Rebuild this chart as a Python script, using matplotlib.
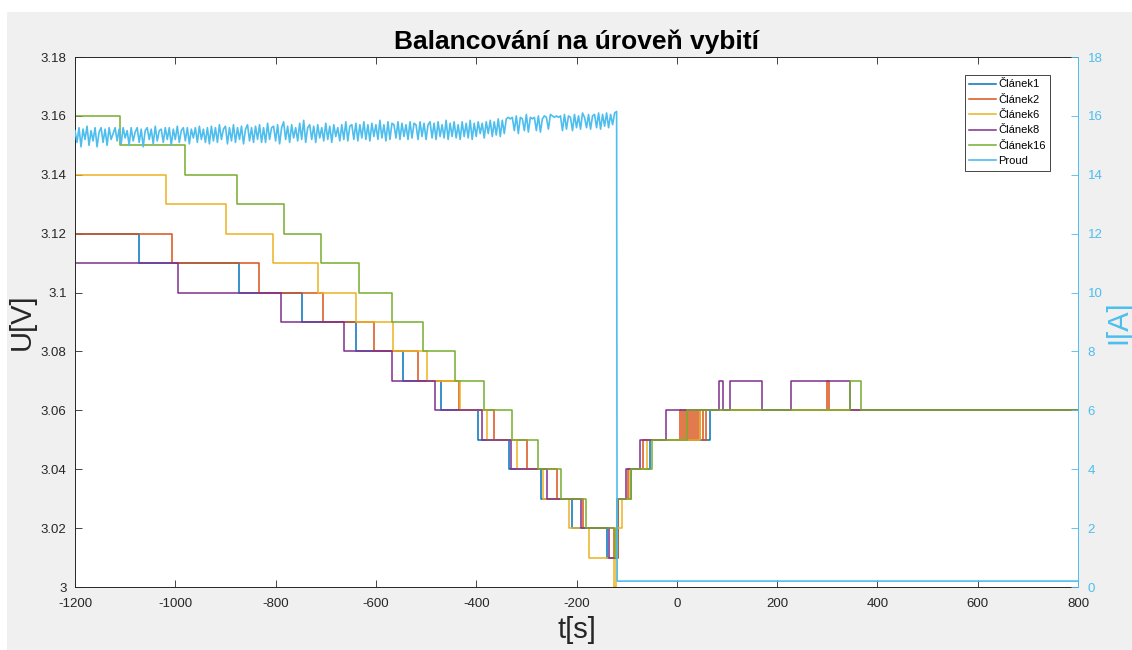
import numpy as np
import matplotlib.pyplot as plt
from matplotlib.patches import Rectangle

plt.rcParams['font.family'] = ['Liberation Sans', 'DejaVu Sans']
plt.rcParams['axes.unicode_minus'] = False

# step breakpoints: time [s] and cell voltage [V] from that time on
c1_t = [-1200, -1072, -873, -747, -640, -546, -470, -396, -335, -271, -209, -139, -118, -91, -53, 66, 800]
c1_u = [3.12, 3.11, 3.10, 3.09, 3.08, 3.07, 3.06, 3.05, 3.04, 3.03, 3.02, 3.01, 3.03, 3.04, 3.05, 3.06, 3.06]

c2_t = [-1200, -1006, -833, -705, -604, -516, -434, -364, -299, -239, -187, -125, -118, -97, -67,
        6, 10, 14, 18, 22, 26, 30, 34, 38, 42, 46, 52, 58, 300, 304, 800]
c2_u = [3.12, 3.11, 3.10, 3.09, 3.08, 3.07, 3.06, 3.05, 3.04, 3.03, 3.02, 3.01, 3.03, 3.04, 3.05,
        3.06, 3.05, 3.06, 3.05, 3.06, 3.05, 3.06, 3.05, 3.06, 3.05, 3.06, 3.05, 3.06, 3.07, 3.06, 3.06]

c6_t = [-1200, -1018, -899, -805, -715, -640, -566, -498, -432, -378, -319, -267, -215, -175, -125,
        -121, -109, -93, -60, 46, 800]
c6_u = [3.14, 3.13, 3.12, 3.11, 3.10, 3.09, 3.08, 3.07, 3.06, 3.05, 3.04, 3.03, 3.02, 3.01, 3.00,
        3.02, 3.03, 3.04, 3.05, 3.06, 3.06]

c8_t = [-1200, -995, -789, -664, -568, -482, -388, -331, -259, -191, -135, -119, -101, -73, -21,
        84, 92, 106, 170, 228, 345, 800]
c8_u = [3.11, 3.10, 3.09, 3.08, 3.07, 3.06, 3.05, 3.04, 3.03, 3.02, 3.01, 3.03, 3.04, 3.05, 3.06,
        3.07, 3.06, 3.07, 3.06, 3.07, 3.06, 3.06]

c16_t = [-1200, -1110, -981, -877, -783, -709, -634, -568, -506, -442, -384, -329, -277, -231, -181,
         -123, -119, -91, -49, 20, 345, 367, 800]
c16_u = [3.16, 3.15, 3.14, 3.13, 3.12, 3.11, 3.10, 3.09, 3.08, 3.07, 3.06, 3.05, 3.04, 3.03, 3.02,
         3.01, 3.03, 3.04, 3.05, 3.06, 3.07, 3.06, 3.06]

# current [A] while discharging (-1200 s .. -120 s), read roughly every 4 s
proud_on = [
    15.5, 15.1, 15.6, 14.95, 15.55, 15.2, 15.65, 15.0, 15.5, 15.15,
    15.6, 14.95, 15.45, 15.6, 15.1, 15.55, 15.0, 15.6, 15.2, 15.4,
    15.6, 15.15, 15.55, 15.05, 15.6, 15.25, 15.5, 15.0, 15.6, 15.15,
    15.45, 15.6, 15.1, 15.55, 14.95, 15.5, 15.6, 15.2, 15.55, 15.05,
    15.65, 15.15, 15.5, 15.55, 15.1, 15.6, 15.2, 15.6, 15.0, 15.55,
    15.2, 15.65, 15.1, 15.5, 15.6, 15.15, 15.6, 15.05, 15.55, 15.25,
    15.6, 15.1, 15.65, 15.2, 15.55, 15.1, 15.6, 15.05,
    15.65, 15.15, 15.6, 15.1, 15.7, 15.2, 15.55, 15.65, 15.05, 15.6,
    15.15, 15.7, 15.1, 15.6, 15.2, 15.65, 15.05, 15.55, 15.7, 15.15,
    15.6, 15.1, 15.65, 15.2, 15.7, 15.1, 15.6, 15.1, 15.75, 15.2,
    15.6, 15.65, 15.15, 15.7, 15.05, 15.6, 15.8, 15.2, 15.65, 15.1,
    15.7, 15.25, 15.6, 15.15, 15.75, 15.2, 15.85, 15.1, 15.6, 15.7,
    15.2, 15.65, 15.1, 15.7, 15.25, 15.6, 15.15, 15.75, 15.2, 15.65,
    15.1, 15.7, 15.3, 15.6, 15.15, 15.7, 15.2, 15.8, 15.15, 15.65,
    15.7, 15.2, 15.75, 15.15, 15.7, 15.25, 15.8, 15.2, 15.7, 15.15,
    15.75, 15.3, 15.7, 15.2, 15.85, 15.25, 15.7, 15.15, 15.8, 15.2,
    15.75, 15.7, 15.25, 15.8, 15.2, 15.75, 15.3, 15.7, 15.2, 15.8,
    15.25, 15.75, 15.7, 15.2, 15.8, 15.3, 15.75, 15.2, 15.7, 15.8,
    15.25, 15.75, 15.2, 15.8, 15.3, 15.7, 15.25, 15.85, 15.2, 15.75,
    15.3, 15.8, 15.25, 15.7, 15.2, 15.8, 15.3, 15.75, 15.25, 15.85,
    15.2, 15.75, 15.3, 15.8, 15.4, 15.75, 15.25, 15.8,
    15.4, 15.85, 15.3, 15.8, 15.35, 15.9, 15.3, 15.85, 15.4, 15.9,
    15.95, 15.9, 15.95, 15.5, 16.0, 15.4, 15.95, 15.9, 15.5, 16.05,
    15.45, 15.95, 15.9, 15.95, 15.5, 16.0, 15.45, 15.9, 16.0, 15.95,
    15.55, 16.05, 16.0, 15.95, 16.0, 15.95, 16.0, 15.5, 16.05, 15.55,
    16.0, 15.95, 15.5, 16.05, 15.6, 16.0, 15.55, 16.1, 15.95, 15.6,
    16.05, 15.55, 16.0, 16.05, 15.6, 16.1, 15.55, 16.05, 15.65, 16.1,
    15.6, 16.05, 15.7, 16.1, 16.15,
]
# after the load is switched off
proud_off_t = [-119, 800]
proud_off = [0.2, 0.2]

series = [
    ('Článek1', c1_t, c1_u, '#0072BD'),
    ('Článek2', c2_t, c2_u, '#D95319'),
    ('Článek6', c6_t, c6_u, '#EDB120'),
    ('Článek8', c8_t, c8_u, '#7E2F8E'),
    ('Článek16', c16_t, c16_u, '#77AC30'),
]
proud_color = '#4DBEEE'
axis_color = '#262626'

fig = plt.figure(figsize=(11.32, 6.5), dpi=100)
fig.patch.set_facecolor('white')
fig.add_artist(Rectangle((7 / 1132, 0), 1, 638 / 650, transform=fig.transFigure,
                         facecolor='#f0f0f0', edgecolor='none', zorder=-10))

ax = fig.add_axes([75 / 1132, 63 / 650, 1003 / 1132, 530 / 650])
ax.set_facecolor('white')

handles = []
for name, t, u, col in series:
    h, = ax.step(t, u, where='post', color=col, lw=1.1, label=name)
    handles.append(h)

ax2 = ax.twinx()
proud_t = np.concatenate([np.linspace(-1200, -120, len(proud_on)), proud_off_t])
proud = np.concatenate([proud_on, proud_off])
h, = ax2.plot(proud_t, proud, color=proud_color, lw=1.2, label='Proud')
handles.append(h)

ax.set_xlim(-1200, 800)
ax.set_ylim(3.0, 3.18)
ax2.set_ylim(0, 18)

ax.set_xticks(np.arange(-1200, 801, 200))
yt = np.arange(3.0, 3.181, 0.02)
ax.set_yticks(yt)
ax.set_yticklabels(['%g' % round(v, 2) for v in yt])
ax2.set_yticks(np.arange(0, 19, 2))

ax.tick_params(axis='both', direction='in', length=5, width=0.6, labelsize=9.5,
               colors=axis_color, top=True, right=False)
ax.tick_params(axis='x', pad=8)
ax.tick_params(axis='y', pad=6)
ax2.tick_params(axis='y', direction='in', length=5, width=0.6, labelsize=9.5,
                colors=proud_color, pad=7)
for s in ['left', 'bottom', 'top']:
    ax.spines[s].set_color(axis_color)
    ax.spines[s].set_linewidth(0.7)
ax.spines['right'].set_visible(False)
for s in ['left', 'bottom', 'top']:
    ax2.spines[s].set_visible(False)
ax2.spines['right'].set_color(proud_color)
ax2.spines['right'].set_linewidth(0.7)

ax.set_title('Balancování na úroveň vybití', fontsize=19, fontweight='bold', pad=6)

# axis labels placed at the pixel centres seen in the reference
ax.text(0.5, -0.081, 't[s]', transform=ax.transAxes, ha='center', va='center',
        fontsize=21, color=axis_color)
ax.text(-0.053, 0.5, 'U[V]', transform=ax.transAxes, ha='center', va='center',
        rotation=90, fontsize=21, color=axis_color)
ax.text(1.04, 0.5, 'I[A]', transform=ax.transAxes, ha='center', va='center',
        rotation=90, fontsize=21, color=proud_color)

leg = ax2.legend(handles=handles, loc='upper right', bbox_to_anchor=(0.972, 0.966),
                 fontsize=8, fancybox=False, framealpha=1, edgecolor='#262626',
                 handlelength=2.4, handletextpad=0.2, labelspacing=0.48, borderpad=0.4,
                 borderaxespad=0)
leg.get_frame().set_linewidth(0.6)

fig.savefig('out.png', dpi=100, facecolor=fig.get_facecolor())
